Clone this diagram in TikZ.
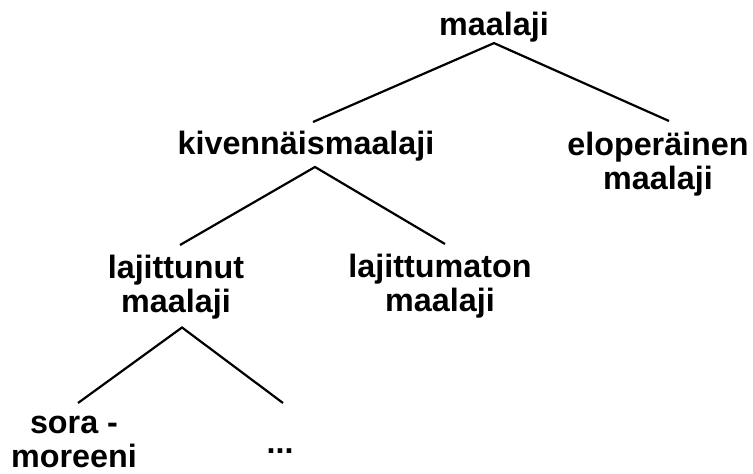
\documentclass[tikz,border=0pt]{standalone}
\usepackage{fontspec}
\setmainfont{Liberation Sans}
\newcommand\lstrut{\rule[-0.25em]{0pt}{1em}}
\tikzset{
  term/.style={anchor=north, align=center, inner sep=0pt, outer sep=0pt,
    font=\bfseries\fontsize{32.3bp}{34.5bp}\selectfont},
  branch/.style={line width=2.2bp}
}
\begin{document}
\begin{tikzpicture}[x=1bp, y=-1bp]
  \useasboundingbox (0,0) rectangle (753,474);

  % Root
  \node[term] (maa) at (494,10.8) {\lstrut maalaji};

  % Level 1
  \node[term] (kiv) at (306,129.8) {\lstrut kivennäismaalaji};
  \node[term] (elo) at (658,130.8) {\lstrut eloperäinen\\\lstrut maalaji};

  % Level 2
  \node[term] (lajnut) at (176,253.8) {\lstrut lajittunut\\\lstrut maalaji};
  \node[term] (lajton) at (440,252.8) {\lstrut lajittumaton\\\lstrut maalaji};

  % Level 3
  \node[term] (sora) at (74,408.8) {\lstrut sora -\\\lstrut moreeni};
  \node[term] (muut) at (280,428.8) {\lstrut ...};

  % Branches
  \draw[branch] ([xshift=7bp,yshift=7.8bp]kiv.north) -- (maa.south)
                -- ([xshift=11bp,yshift=9.8bp]elo.north);
  \draw[branch] ([xshift=4bp,yshift=8.8bp]lajnut.north)
                -- ([xshift=9bp,yshift=-4.9bp]kiv.south)
                -- ([xshift=5bp,yshift=8.8bp]lajton.north);
  \draw[branch] ([xshift=4bp,yshift=5.8bp]sora.north)
                -- ([xshift=6bp,yshift=-6.9bp]lajnut.south)
                -- ([xshift=3bp,yshift=25.8bp]muut.north);
\end{tikzpicture}
\end{document}
